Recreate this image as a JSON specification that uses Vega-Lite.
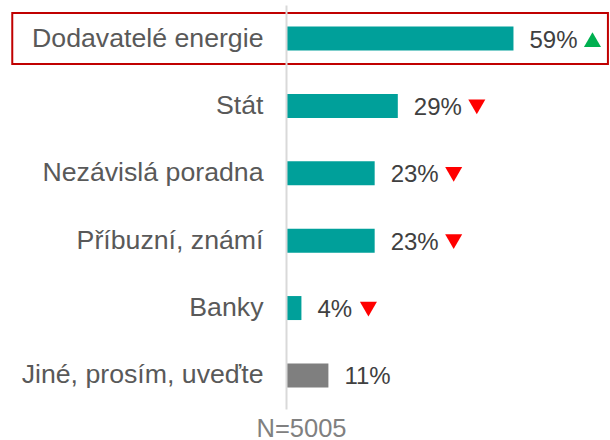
{
  "$schema": "https://vega.github.io/schema/vega-lite/v6.json",
  "autosize": {"type": "none"},
  "padding": {"left": 286, "top": 5, "right": 4, "bottom": 31},
  "width": 320,
  "height": 404,
  "background": "white",
  "config": {
    "view": {"stroke": null},
    "font": "Liberation Sans"
  },
  "data": {
    "values": [
      {"kategorie": "Dodavatelé energie", "hodnota": 59, "popisek": "59%", "sipka": "nahoru", "skupina": "hlavni", "zvyrazneni": true},
      {"kategorie": "Stát", "hodnota": 29, "popisek": "29%", "sipka": "dolu", "skupina": "hlavni", "zvyrazneni": false},
      {"kategorie": "Nezávislá poradna", "hodnota": 23, "popisek": "23%", "sipka": "dolu", "skupina": "hlavni", "zvyrazneni": false},
      {"kategorie": "Příbuzní, známí", "hodnota": 23, "popisek": "23%", "sipka": "dolu", "skupina": "hlavni", "zvyrazneni": false},
      {"kategorie": "Banky", "hodnota": 4, "popisek": "4%", "sipka": "dolu", "skupina": "hlavni", "zvyrazneni": false},
      {"kategorie": "Jiné, prosím, uveďte", "hodnota": 11, "popisek": "11%", "sipka": "", "skupina": "jine", "zvyrazneni": false}
    ]
  },
  "encoding": {
    "y": {
      "field": "kategorie",
      "type": "nominal",
      "sort": null,
      "scale": {"paddingInner": 0.243, "paddingOuter": 0.12},
      "axis": {
        "title": null,
        "ticks": false,
        "labelFontSize": 26.7,
        "labelColor": "#595959",
        "labelPadding": 23,
        "labelLimit": 300,
        "domainColor": "#D9D9D9",
        "domainWidth": 2
      }
    }
  },
  "layer": [
    {
      "transform": [{"filter": "datum.zvyrazneni"}],
      "mark": {"type": "rect", "filled": false, "stroke": "#C00000", "strokeWidth": 2, "clip": false},
      "encoding": {
        "x": {"datum": -71},
        "x2": {"datum": 83.5}
      }
    },
    {
      "mark": {"type": "bar", "size": 24},
      "encoding": {
        "x": {
          "field": "hodnota",
          "type": "quantitative",
          "scale": {"domain": [0, 83], "nice": false},
          "axis": {
            "title": "N=5005",
            "labels": false,
            "ticks": false,
            "domain": false,
            "grid": false,
            "titleFontSize": 25.5,
            "titleFontWeight": "normal",
            "titleColor": "#808080",
            "titleAnchor": "start",
            "titleAlign": "center",
            "titleBaseline": "alphabetic",
            "titleX": 15,
            "titleY": 27
          }
        },
        "color": {
          "field": "skupina",
          "type": "nominal",
          "scale": {"domain": ["hlavni", "jine"], "range": ["#00A09A", "#7F7F7F"]},
          "legend": null
        }
      }
    },
    {
      "mark": {"type": "text", "align": "left", "baseline": "middle", "dx": 16, "dy": 2, "fontSize": 24, "color": "#404040"},
      "encoding": {
        "x": {"field": "hodnota", "type": "quantitative"},
        "text": {"field": "popisek"}
      }
    },
    {
      "transform": [{"filter": "datum.sipka != '' && datum.hodnota >= 10"}],
      "mark": {"type": "point", "filled": true, "opacity": 1, "size": 290, "xOffset": 79, "yOffset": 1},
      "encoding": {
        "x": {"field": "hodnota", "type": "quantitative"},
        "shape": {"condition": {"test": "datum.sipka == 'nahoru'", "value": "triangle-up"}, "value": "triangle-down"},
        "color": {"condition": {"test": "datum.sipka == 'nahoru'", "value": "#00B050"}, "value": "#FF0000"}
      }
    },
    {
      "transform": [{"filter": "datum.sipka != '' && datum.hodnota < 10"}],
      "mark": {"type": "point", "filled": true, "opacity": 1, "size": 290, "xOffset": 67, "yOffset": 1},
      "encoding": {
        "x": {"field": "hodnota", "type": "quantitative"},
        "shape": {"condition": {"test": "datum.sipka == 'nahoru'", "value": "triangle-up"}, "value": "triangle-down"},
        "color": {"condition": {"test": "datum.sipka == 'nahoru'", "value": "#00B050"}, "value": "#FF0000"}
      }
    }
  ]
}
